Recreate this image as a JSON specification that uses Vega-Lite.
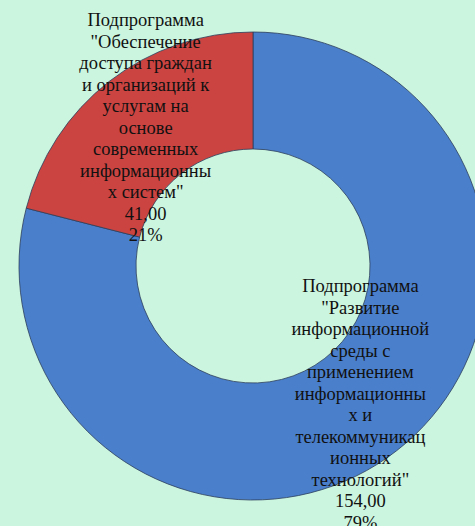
{
  "$schema": "https://vega.github.io/schema/vega-lite/v6.json",
  "width": 506,
  "height": 532,
  "autosize": {"type": "none"},
  "padding": 0,
  "background": "#cbf5df",
  "config": {"view": {"stroke": null}},
  "data": {
    "values": [
      {"order": 1, "program": "Развитие информационной среды", "value": 154.0, "share": "79%", "label": "Подпрограмма\n\"Развитие\nинформационной\nсреды с\nприменением\nинформационны\nх и\nтелекоммуникац\nионных\nтехнологий\"\n154,00\n79%"},
      {"order": 2, "program": "Обеспечение доступа", "value": 41.0, "share": "21%", "label": "Подпрограмма\n\"Обеспечение\nдоступа граждан\nи организаций к\nуслугам на\nоснове\nсовременных\nинформационны\nх систем\"\n41,00\n21%"}
    ]
  },
  "encoding": {
    "theta": {"field": "value", "type": "quantitative", "stack": true},
    "order": {"field": "order", "type": "quantitative"}
  },
  "layer": [
    {
      "mark": {"type": "arc", "outerRadius": 234, "innerRadius": 117, "stroke": "#2c3e5a", "strokeWidth": 0.8},
      "encoding": {
        "color": {
          "field": "program",
          "type": "nominal",
          "scale": {"domain": ["Развитие информационной среды", "Обеспечение доступа"], "range": ["#4a7fcc", "#cc4441"]},
          "legend": null
        }
      }
    },
    {
      "mark": {"type": "text", "radius": 175, "dy": -118, "font": "Liberation Serif", "fontSize": 18.5, "lineHeight": 21.5, "lineBreak": "\n", "align": "center", "baseline": "middle", "color": "#111111"},
      "encoding": {"text": {"condition": {"test": "datum.order == 1", "field": "label", "type": "nominal"}, "value": ""}}
    },
    {
      "mark": {"type": "text", "radius": 175, "dy": -107.5, "font": "Liberation Serif", "fontSize": 18.5, "lineHeight": 21.5, "lineBreak": "\n", "align": "center", "baseline": "middle", "color": "#111111"},
      "encoding": {"text": {"condition": {"test": "datum.order == 2", "field": "label", "type": "nominal"}, "value": ""}}
    }
  ]
}
